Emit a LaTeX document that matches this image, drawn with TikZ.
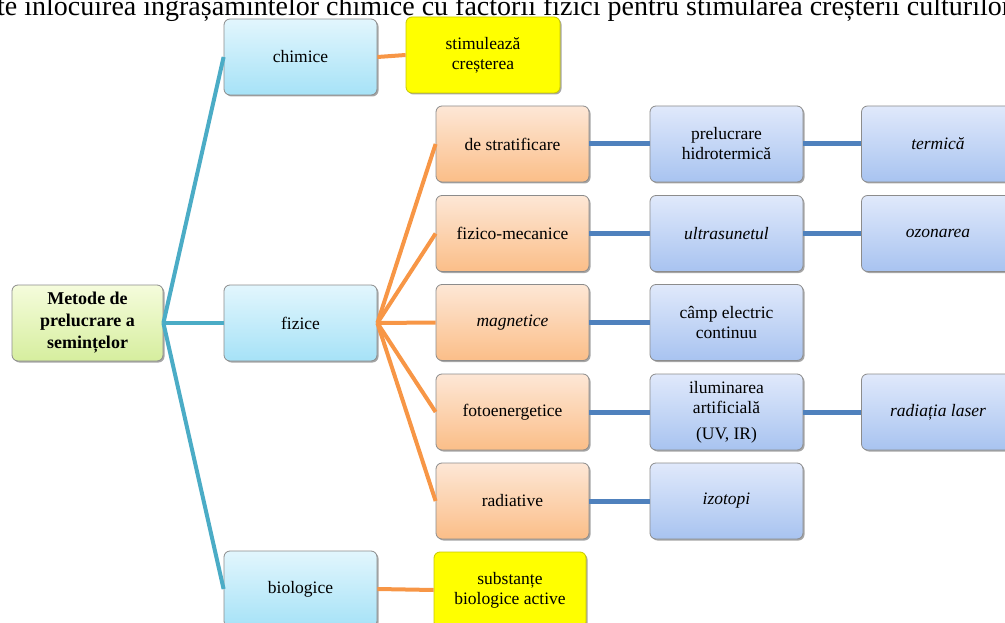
\documentclass[tikz,border=0pt]{standalone}
\usepackage{fontspec}
\setmainfont{Liberation Serif}
\usetikzlibrary{shadows}
\definecolor{teal1}{HTML}{4BACC6}
\definecolor{orng}{HTML}{F79646}
\definecolor{blu}{HTML}{4F81BD}
\definecolor{ylw}{RGB}{255,255,0}
\definecolor{ylwd}{RGB}{200,200,0}
\definecolor{lbT}{HTML}{E2F6FD}
\definecolor{lbB}{HTML}{A6E2F7}
\definecolor{obT}{HTML}{FDE7D6}
\definecolor{obB}{HTML}{FBBE88}
\definecolor{bbT}{HTML}{E0E9FB}
\definecolor{bbB}{HTML}{A8C3F0}
\definecolor{gbT}{HTML}{F5FCDC}
\definecolor{gbB}{HTML}{D6EE9E}
\tikzset{
  box/.style={draw=black!45, line width=0.8pt, rounded corners=6pt, align=center,
    minimum width=153pt, minimum height=76pt, inner sep=2pt,
    font=\fontsize{17.5}{20}\selectfont,
    drop shadow={shadow xshift=1.5pt, shadow yshift=-1.5pt, fill=black!50, opacity=0.7}},
  rootbox/.style={box, top color=gbT, bottom color=gbB, minimum width=151pt, font=\bfseries\fontsize{18}{22}\selectfont},
  lbox/.style={box, top color=lbT, bottom color=lbB},
  ybox/.style={box, fill=ylw, draw=ylwd, minimum width=154pt},
  obox/.style={box, top color=obT, bottom color=obB},
  bbox/.style={box, top color=bbT, bottom color=bbB},
  tl/.style={teal1, line width=4pt},
  ol/.style={orng, line width=4pt},
  bl/.style={blu, line width=5pt},
}
\begin{document}
\begin{tikzpicture}[x=1pt,y=-1pt]
\useasboundingbox (0,0) rectangle (1005,623);
\clip (0,0) rectangle (1005,623);
\node[anchor=base west, font=\fontsize{28}{30}\selectfont, inner sep=0pt] (title) at (-3,16) {te înlocuirea îngrășămintelor chimice cu factorii fizici pentru stimularea creșterii culturilor};

\node[rootbox] (root) at (87.5,323) {Metode de\\prelucrare a\\semințelor};
\node[lbox] (chim) at (300.5,57) {chimice};
\node[lbox] (fiz) at (300.5,323) {fizice};
\node[lbox] (bio) at (300.5,589) {biologice};
\node[ybox] (stim) at (483,55) {stimulează\\creșterea};
\node[ybox, minimum width=152pt] (subst) at (510,590) {substanțe\\biologice  active};

\node[obox] (o1) at (512.5,144) {de stratificare};
\node[obox] (o2) at (512.5,233.5) {fizico-mecanice};
\node[obox] (o3) at (512.5,322.5) {\itshape magnetice};
\node[obox] (o4) at (512.5,412) {fotoenergetice};
\node[obox] (o5) at (512.5,501) {radiative};

\node[bbox] (b1) at (726.5,144) {prelucrare\\hidrotermică};
\node[bbox] (b2) at (726.5,233.5) {\itshape ultrasunetul};
\node[bbox] (b3) at (726.5,322.5) {câmp electric\\continuu};
\node[bbox] (b4) at (726.5,412) {iluminarea\\artificială\\[6pt](UV, IR)};
\node[bbox] (b5) at (726.5,501) {\itshape izotopi};

\node[bbox] (c1) at (938,144) {\itshape termică};
\node[bbox] (c2) at (938,233.5) {\itshape ozonarea};
\node[bbox] (c4) at (938,412) {\itshape radiația laser};

\draw[tl] (root.east) -- (chim.west);
\draw[tl] (root.east) -- (fiz.west);
\draw[tl] (root.east) -- (bio.west);
\draw[ol] (chim.east) -- (stim.west);
\draw[ol] (bio.east) -- (subst.west);
\foreach \o in {o1,o2,o3,o4,o5}{\draw[ol] (fiz.east) -- (\o.west);}
\draw[bl] (o1.east) -- (b1.west);
\draw[bl] (o2.east) -- (b2.west);
\draw[bl] (o3.east) -- (b3.west);
\draw[bl] (o4.east) -- (b4.west);
\draw[bl] (o5.east) -- (b5.west);
\draw[bl] (b1.east) -- (c1.west);
\draw[bl] (b2.east) -- (c2.west);
\draw[bl] (b4.east) -- (c4.west);
\end{tikzpicture}
\end{document}
